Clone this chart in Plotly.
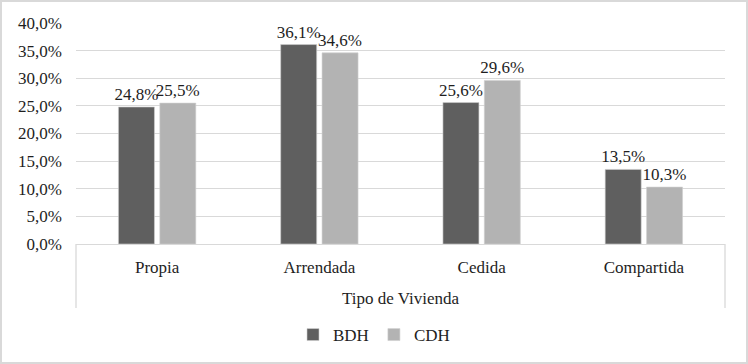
import plotly.graph_objects as go

categories = ["Propia", "Arrendada", "Cedida", "Compartida"]
group_label = "Tipo de Vivienda"
bdh = [24.8, 36.1, 25.6, 13.5]
cdh = [25.5, 34.6, 29.6, 10.3]
series_names = ["BDH", "CDH"]

FONT = "Liberation Serif"
TXT = "#1e1e1e"
FS = 17

fig = go.Figure()
for name, vals, col in [(series_names[0], bdh, "#5f5f5f"), (series_names[1], cdh, "#b3b3b3")]:
    fig.add_trace(go.Bar(
        x=categories, y=vals, name=name,
        marker=dict(color=col, line=dict(color="#d0d0d0", width=0.6)),
        text=vals, texttemplate="%{y:.1f}%", textposition="outside",
        textfont=dict(family=FONT, size=FS, color=TXT),
        constraintext="none", cliponaxis=False,
    ))

W, H = 748, 364
L, R, T, B = 76, 23, 23, 120
pw, ph = W - L - R, H - T - B
GRID = "#d9d9d9"


def py(p):
    return (H - B - p) / ph


def px(p):
    return (p - L) / pw


fig.update_layout(
    width=W, height=H,
    margin=dict(l=L, r=R, t=T, b=B, autoexpand=False),
    paper_bgcolor="white", plot_bgcolor="white",
    separators=",.",
    barmode="group", bargap=0.49, bargroupgap=0.13,
    font=dict(family=FONT, size=FS, color=TXT),
    showlegend=True,
    legend=dict(orientation="h", xref="container", yref="container",
                x=0.5, xanchor="center", y=1 - 335 / H, yanchor="middle",
                font=dict(family=FONT, size=FS, color=TXT),
                itemwidth=30, traceorder="normal"),
    yaxis=dict(range=[0, 40], dtick=5, tickformat=".1f", ticksuffix="%",
               showgrid=True, gridcolor=GRID, gridwidth=1.3,
               zeroline=False, showline=False, ticks="", automargin=False,
               ticklabelstandoff=13,
               tickfont=dict(family=FONT, size=FS, color=TXT)),
    xaxis=dict(type="category", showline=True, linecolor=GRID, linewidth=1.3,
               ticks="", automargin=False, ticklabelstandoff=7,
               tickfont=dict(family=FONT, size=FS, color=TXT)),
    annotations=[dict(text=group_label, xref="paper", yref="paper",
                      x=0.5, y=py(298), yanchor="middle", showarrow=False,
                      font=dict(family=FONT, size=FS, color=TXT))],
    shapes=[
        dict(type="line", xref="paper", yref="paper", x0=0, x1=0, y0=0, y1=py(308),
             line=dict(color=GRID, width=1.3)),
        dict(type="line", xref="paper", yref="paper", x0=1, x1=1, y0=0, y1=py(308),
             line=dict(color=GRID, width=1.3)),
        dict(type="rect", xref="paper", yref="paper",
             x0=px(1), x1=px(W - 1), y0=py(H - 1), y1=py(1),
             line=dict(color=GRID, width=2), fillcolor="rgba(0,0,0,0)"),
    ],
)

fig.write_html("out.html", config={"displayModeBar": False},
               post_script="document.body.style.margin='0';document.body.style.padding='0';")
